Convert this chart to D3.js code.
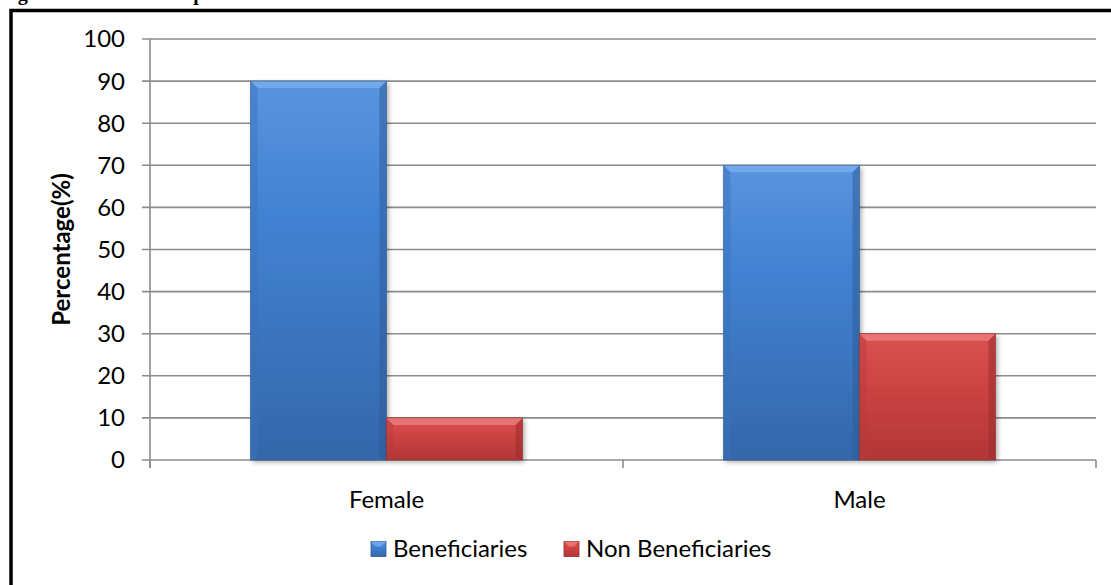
<!DOCTYPE html>
<html>
<head>
<meta charset="utf-8">
<script src="https://cdnjs.cloudflare.com/ajax/libs/d3/7.8.5/d3.min.js"></script>
<style>
  html, body { margin: 0; padding: 0; background: #fff; }
  svg { display: block; }
</style>
</head>
<body>
<svg id="chart" width="1111" height="585"></svg>
<script>
const categories = ["Female", "Male"];
const series = ["Beneficiaries", "Non Beneficiaries"];
const beneficiaries = [90, 70];
const nonBeneficiaries = [10, 30];
const yTicks = [0, 10, 20, 30, 40, 50, 60, 70, 80, 90, 100];
const titleText = "Figure 4: Gender Comparison of Beneficiaries";
const yTitle = "Percentage(%)";

(function () {
const values = [beneficiaries, nonBeneficiaries];
const palette = {
  "Beneficiaries": { top: "#5a94de", mid: "#4282d3", bot: "#3467aa", hi: "#77acee", side: "#3a70b8", dark: "#2d5a96" },
  "Non Beneficiaries": { top: "#d95252", mid: "#d04545", bot: "#b23636", hi: "#ec7a7a", side: "#b73b3b", dark: "#952c2c" }
};

const svg = d3.select("#chart");
const font = "Lato, 'Open Sans', sans-serif";
const fs = 24;

// frame
svg.append("rect").attr("x", 11).attr("y", 10.5).attr("width", 1200).attr("height", 700)
  .attr("fill", "none").attr("stroke", "#000").attr("stroke-width", 3.5);

// title (clipped at top, as in the reference)
svg.append("text").attr("x", 0).attr("y", 0)
  .attr("font-family", "'Liberation Serif', 'DejaVu Serif', serif")
  .attr("font-weight", "bold").attr("font-size", 20).attr("fill", "#000")
  .text(titleText);

const pLeft = 150, pRight = 1096, pTop = 39, pBottom = 460;
const x = d3.scaleBand().domain(categories).range([pLeft, pRight]).paddingInner(0).paddingOuter(0);
const x1 = d3.scaleBand().domain(series).range([0, x.bandwidth()]).paddingInner(0).paddingOuter(0.739);
const y = d3.scaleLinear().domain([0, 100]).range([pBottom, pTop]);

// gridlines
svg.append("g").selectAll("line").data(yTicks).join("line")
  .attr("x1", pLeft - 8).attr("x2", pRight)
  .attr("y1", d => y(d)).attr("y2", d => y(d))
  .attr("stroke", "#8c8c8c").attr("stroke-width", 1.6);

// y axis line
svg.append("line").attr("x1", pLeft).attr("x2", pLeft).attr("y1", pTop).attr("y2", pBottom + 8)
  .attr("stroke", "#8c8c8c").attr("stroke-width", 1.6);

// x ticks
const xTickPos = [pLeft].concat(categories.map(c => x(c) + x.bandwidth()));
svg.append("g").selectAll("line").data(xTickPos).join("line")
  .attr("x1", d => d).attr("x2", d => d).attr("y1", pBottom).attr("y2", pBottom + 8)
  .attr("stroke", "#8c8c8c").attr("stroke-width", 1.6);

// y tick labels
svg.append("g").selectAll("text").data(yTicks).join("text")
  .attr("x", 125).attr("y", d => y(d)).attr("dy", "0.35em")
  .attr("text-anchor", "end").attr("font-family", font).attr("font-size", fs).attr("fill", "#000")
  .text(d => d);

// y title
svg.append("text")
  .attr("transform", `translate(62,${(pTop + pBottom) / 2}) rotate(-90)`)
  .attr("text-anchor", "middle").attr("dy", "0.35em")
  .attr("font-family", font).attr("font-weight", "bold").attr("font-size", fs).attr("fill", "#000")
  .text(yTitle);

// x labels
svg.append("g").selectAll("text").data(categories).join("text")
  .attr("x", d => x(d) + x.bandwidth() / 2).attr("y", 500).attr("dy", "0.35em")
  .attr("text-anchor", "middle").attr("font-family", font).attr("font-size", fs).attr("fill", "#000")
  .text(d => d);

// gradients
const defs = svg.append("defs");
series.forEach((s, i) => {
  const p = palette[s];
  const g = defs.append("linearGradient").attr("id", "grad" + i).attr("x1", 0).attr("x2", 0).attr("y1", 0).attr("y2", 1);
  g.append("stop").attr("offset", "0%").attr("stop-color", p.top);
  g.append("stop").attr("offset", "35%").attr("stop-color", p.mid);
  g.append("stop").attr("offset", "100%").attr("stop-color", p.bot);
});
const sh = defs.append("filter").attr("id", "shadow").attr("x", "-10%").attr("y", "-10%").attr("width", "130%").attr("height", "130%");
sh.append("feGaussianBlur").attr("in", "SourceAlpha").attr("stdDeviation", 2.5);
sh.append("feOffset").attr("dx", 2).attr("dy", 2).attr("result", "b");
sh.append("feComponentTransfer").append("feFuncA").attr("type", "linear").attr("slope", 0.35);
const mg = sh.append("feMerge"); mg.append("feMergeNode"); mg.append("feMergeNode").attr("in", "SourceGraphic");

// bars
const barData = [];
categories.forEach((c, ci) => series.forEach((s, si) => barData.push({ c, s, si, v: values[si][ci] })));
const bev = 7;
const bars = svg.append("g").selectAll("g").data(barData).join("g");
bars.each(function (d) {
  const g = d3.select(this);
  const p = palette[d.s];
  const x0 = x(d.c) + x1(d.s), w = x1.bandwidth();
  const y0 = y(d.v), y1v = y(0), h = y1v - y0;
  g.append("rect").attr("x", x0).attr("y", y0).attr("width", w).attr("height", h)
    .attr("fill", `url(#grad${d.si})`).attr("filter", "url(#shadow)");
  g.append("polygon").attr("points", [[x0, y0], [x0 + w, y0], [x0 + w - bev, y0 + bev], [x0 + bev, y0 + bev]].join(" "))
    .attr("fill", p.hi).attr("opacity", 0.85);
  g.append("polygon").attr("points", [[x0, y0], [x0 + bev, y0 + bev], [x0 + bev, y1v - 3], [x0, y1v]].join(" "))
    .attr("fill", p.side).attr("opacity", 0.45);
  g.append("polygon").attr("points", [[x0 + w, y0], [x0 + w - bev, y0 + bev], [x0 + w - bev, y1v - 3], [x0 + w, y1v]].join(" "))
    .attr("fill", p.dark).attr("opacity", 0.5);
  g.append("rect").attr("x", x0).attr("y", y0).attr("width", w).attr("height", h)
    .attr("fill", "none").attr("stroke", p.dark).attr("stroke-width", 0.8).attr("opacity", 0.7);
});

// legend
const legendX = [371, 564];
const leg = svg.append("g").selectAll("g").data(series).join("g")
  .attr("transform", (d, i) => `translate(${legendX[i]},549)`);
leg.append("rect").attr("x", 0).attr("y", -7.5).attr("width", 15).attr("height", 15)
  .attr("fill", (d, i) => `url(#grad${i})`).attr("stroke", d => palette[d].dark).attr("stroke-width", 0.8);
leg.append("polygon").attr("points", "0,-7.5 15,-7.5 10,-2.5 5,-2.5").attr("fill", d => palette[d].hi).attr("opacity", 0.8);
leg.append("text").attr("x", 22).attr("y", 0).attr("dy", "0.35em")
  .attr("font-family", font).attr("font-size", fs).attr("fill", "#000").text(d => d);
})();
</script>
</body>
</html>
